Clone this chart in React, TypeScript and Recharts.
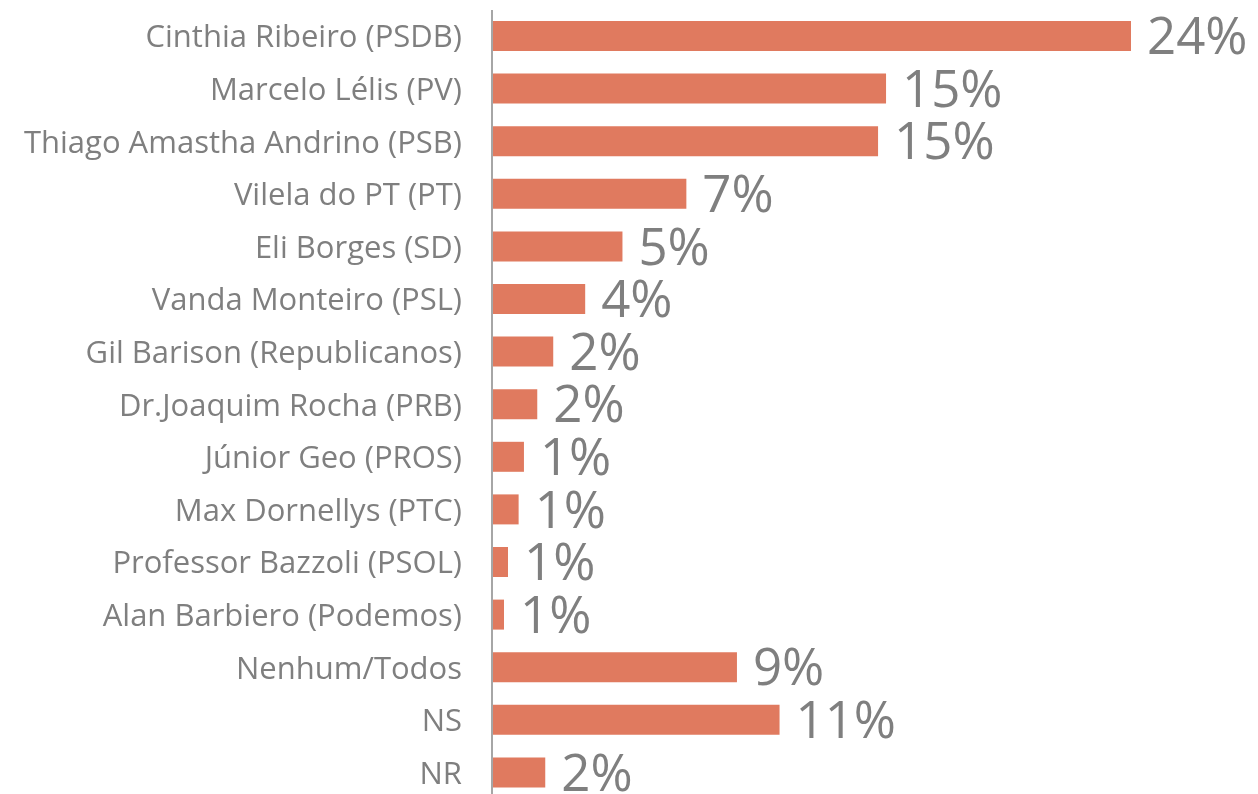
import React from "react";
import { BarChart, Bar, XAxis, YAxis, LabelList } from "recharts";

const categories = [
  "Cinthia Ribeiro (PSDB)",
  "Marcelo Lélis (PV)",
  "Thiago Amastha Andrino (PSB)",
  "Vilela do PT (PT)",
  "Eli Borges (SD)",
  "Vanda Monteiro (PSL)",
  "Gil Barison (Republicanos)",
  "Dr.Joaquim Rocha (PRB)",
  "Júnior Geo (PROS)",
  "Max Dornellys (PTC)",
  "Professor Bazzoli (PSOL)",
  "Alan Barbiero (Podemos)",
  "Nenhum/Todos",
  "NS",
  "NR",
];

const values = [24, 14.8, 14.5, 7.3, 4.9, 3.5, 2.3, 1.7, 1.2, 1.0, 0.6, 0.45, 9.2, 10.8, 2.0];

const valueLabels = ["24%", "15%", "15%", "7%", "5%", "4%", "2%", "2%", "1%", "1%", "1%", "1%", "9%", "11%", "2%"];

const data = categories.map((name, i) => ({ name, value: values[i], label: valueLabels[i] }));

const FONT = "'Open Sans', sans-serif";

export default function App() {
  return (
    <div style={{ position: "fixed", left: 8, top: 8 }}>
      <BarChart
        width={1250}
        height={792}
        data={data}
        layout="vertical"
        margin={{ top: 2, right: 127, bottom: 1, left: 0 }}
      >
        <XAxis type="number" domain={[0, 24]} hide />
        <YAxis
          type="category"
          dataKey="name"
          width={484}
          axisLine={{ stroke: "#a6a6a6", strokeWidth: 2 }}
          tickLine={false}
          tickSize={0}
          tickMargin={30}
          interval={0}
          tick={{ fill: "#7f7f7f", fontSize: 31, fontFamily: FONT }}
        />
        <Bar dataKey="value" fill="#e07a5f" barSize={30} isAnimationActive={false}>
          <LabelList
            dataKey="label"
            position="right"
            offset={16}
            style={{ fill: "#7f7f7f", fontSize: 51, fontFamily: FONT }}
          />
        </Bar>
      </BarChart>
    </div>
  );
}
